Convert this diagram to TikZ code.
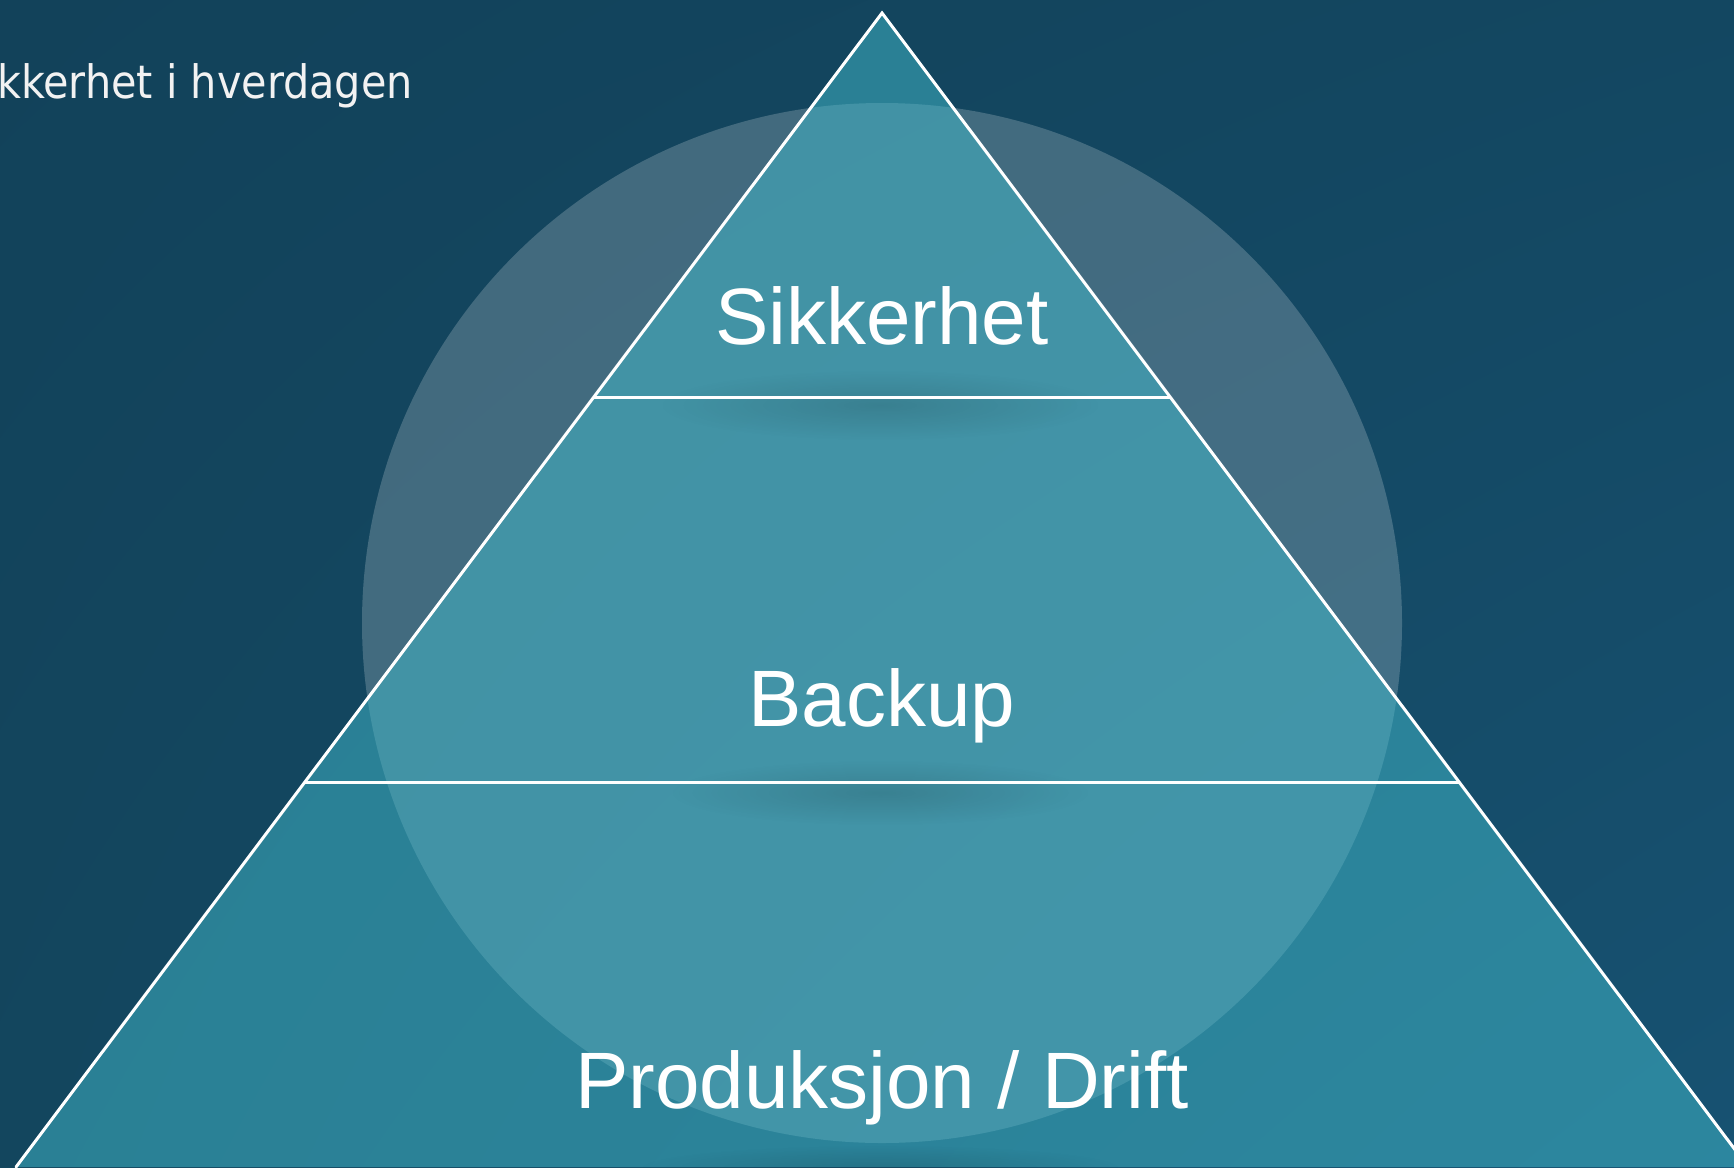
\documentclass[tikz,border=0pt]{standalone}
\usepackage{fontspec}
\setmainfont{Liberation Sans}
\newfontfamily\titlefont{DejaVu Sans Condensed}
\usetikzlibrary{calc,fadings,shadings}
\definecolor{bgUL}{HTML}{12425A}
\definecolor{bgUR}{HTML}{134761}
\definecolor{bgLL}{HTML}{13465E}
\definecolor{bgLR}{HTML}{175272}
\definecolor{tri}{HTML}{42BBCC}
\definecolor{titlecol}{HTML}{F2F2F2}
\tikzfading[name=softfade, inner color=transparent!0, outer color=transparent!100]
\tikzset{
  sep/.style={draw=white, line width=3pt},
  edge/.style={draw=white, line width=3pt, line cap=round},
  lbl/.style={text=white, inner sep=0pt, anchor=base, font=\fontsize{80}{96}\selectfont},
  shadowband/.style={fill=black, opacity=0.13, path fading=softfade},
}
\begin{document}
\begin{tikzpicture}[x=1pt,y=-1pt]
\useasboundingbox (0,0) rectangle (1734,1167);
\clip (0,0) rectangle (1734,1167);
% background
\shade[upper left=bgUL, upper right=bgUR, lower left=bgLL, lower right=bgLR] (0,0) rectangle (1734,1167);
% circle
\fill[white, opacity=0.2] (882,623) circle (520);
% triangle
\coordinate (apex) at (882,13);
\coordinate (bl) at (16,1167);
\coordinate (br) at (1748,1167);
\fill[tri, opacity=0.5] (apex) -- (bl) -- (br) -- cycle;
% soft shadows near separators
\fill[shadowband] (660,370) rectangle (1100,440);
\fill[shadowband] (670,760) rectangle (1090,825);
\fill[shadowband] (640,1145) rectangle (1120,1190);
% separators
\coordinate (l1) at ($(apex)!1/3!(bl)$);
\coordinate (r1) at ($(apex)!1/3!(br)$);
\coordinate (l2) at ($(apex)!2/3!(bl)$);
\coordinate (r2) at ($(apex)!2/3!(br)$);
\draw[sep] (l1) -- (r1);
\draw[sep] (l2) -- (r2);
\draw[edge] (bl) -- (apex) -- (br);
% labels
\node[lbl] (top) at (882,344) {Sikkerhet};
\node[lbl] (mid) at (882,726) {Backup};
\node[lbl] (bot) at (882,1108) {Produksjon / Drift};
% title
\node[text=titlecol, inner sep=0pt, anchor=base east, font=\titlefont\fontsize{46}{55}\selectfont] (title) at (413,98) {Sikkerhet i hverdagen};
\end{tikzpicture}
\end{document}
